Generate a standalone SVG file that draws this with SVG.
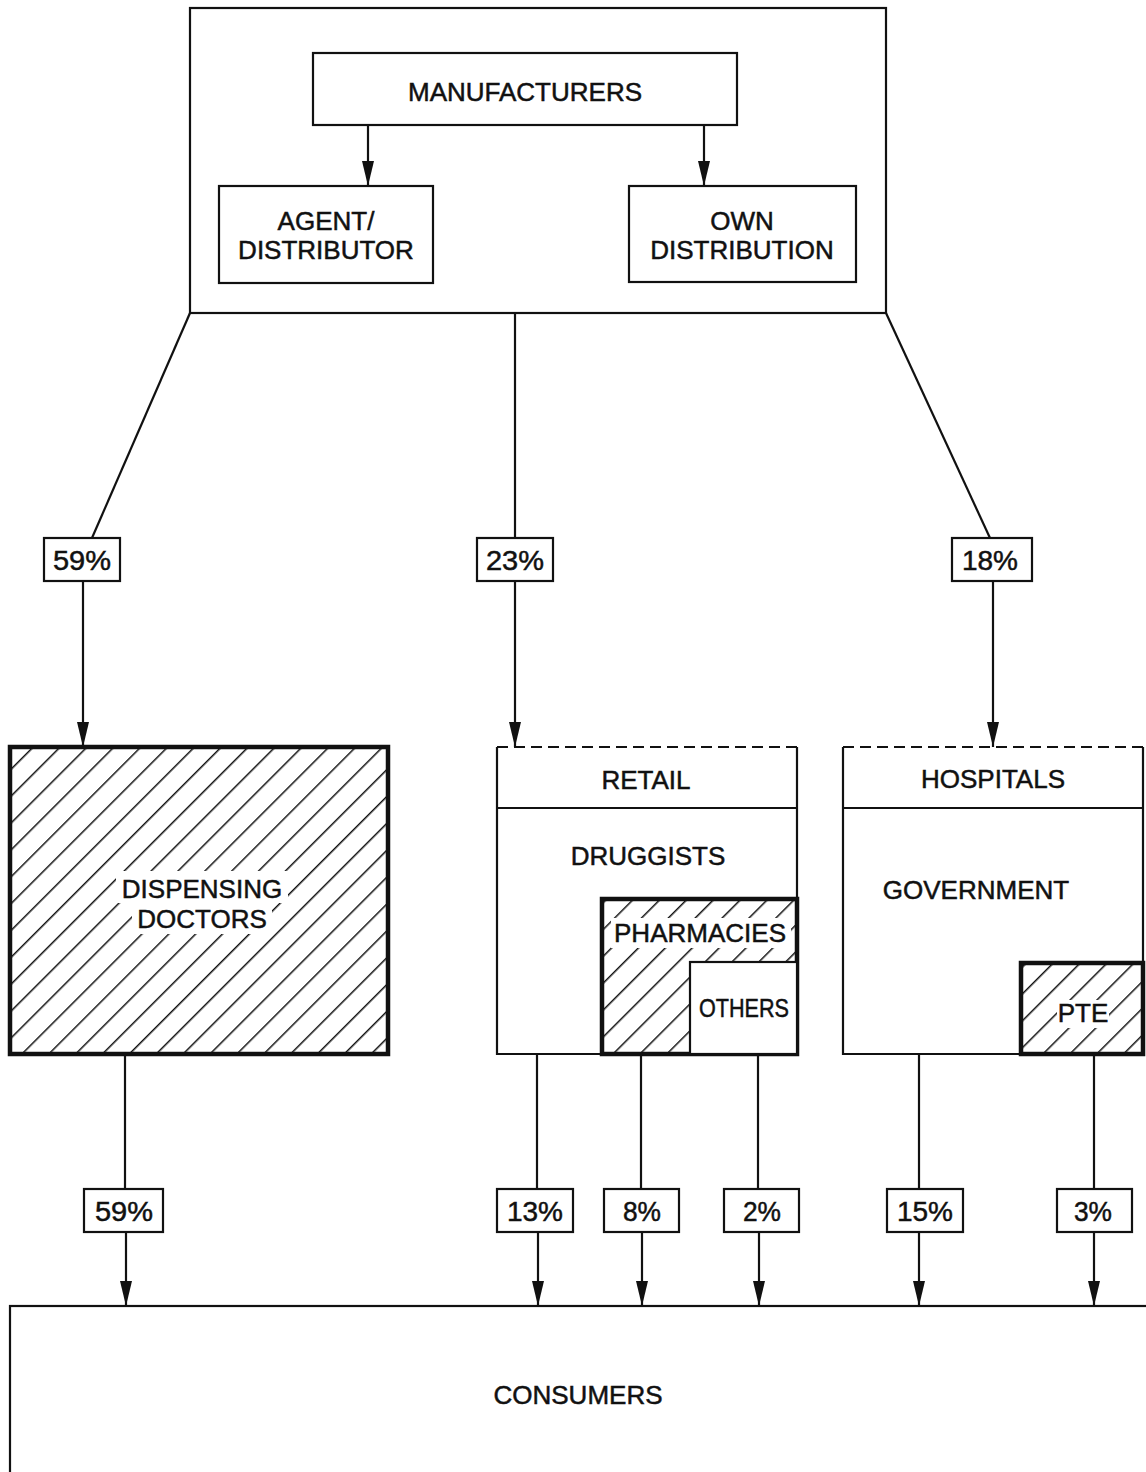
<svg xmlns="http://www.w3.org/2000/svg" width="1146" height="1472" viewBox="0 0 1146 1472">
<style>
.box{fill:#fff;stroke:#111;stroke-width:2.2}
.ln{fill:none;stroke:#111;stroke-width:2.2}
.dash{fill:none;stroke:#111;stroke-width:2.2;stroke-dasharray:11 6}
.t{font-family:"Liberation Sans",Arial,sans-serif;font-size:26px;fill:#111;stroke:#111;stroke-width:0.5;text-anchor:middle}
.p{font-family:"Liberation Sans",Arial,sans-serif;font-size:28px;fill:#111;stroke:#111;stroke-width:0.5;text-anchor:middle}
.wb{fill:#fff;stroke:none}
</style>
<defs>
<pattern id="hatch" patternUnits="userSpaceOnUse" width="19" height="19" patternTransform="rotate(45)">
<rect width="19" height="19" fill="#fff"/>
<line x1="0" y1="0" x2="0" y2="19" stroke="#111" stroke-width="3"/>
</pattern>
<marker id="arr" markerUnits="userSpaceOnUse" markerWidth="26" markerHeight="14" refX="25" refY="7" orient="auto" viewBox="0 0 26 14">
<path d="M0,1 L0,13 L25,7 Z" fill="#111"/>
</marker>
</defs>

<g id="manufacturers-group">
<rect class="box" x="190" y="8" width="696" height="305"/>
</g>
<g id="manufacturers">
<rect class="box" x="313" y="53" width="424" height="72"/>
<text class="t" x="525" y="101">MANUFACTURERS</text>
</g>
<g id="agent-distributor">
<rect class="box" x="219" y="186" width="214" height="97"/>
<text class="t" x="326" y="230">AGENT/</text>
<text class="t" x="326" y="259">DISTRIBUTOR</text>
</g>
<g id="own-distribution">
<rect class="box" x="629" y="186" width="227" height="96"/>
<text class="t" x="742" y="230">OWN</text>
<text class="t" x="742" y="259">DISTRIBUTION</text>
</g>

<g id="dispensing-doctors">
<rect x="10" y="747" width="378" height="307" fill="url(#hatch)" stroke="#111" stroke-width="4.5"/>
<rect class="wb" x="116" y="871" width="172" height="32"/>
<rect class="wb" x="132" y="902" width="140" height="32"/>
<text class="t" x="202" y="898">DISPENSING</text>
<text class="t" x="202" y="928">DOCTORS</text>
</g>

<g id="retail">
<rect x="497" y="747" width="300" height="307" fill="#fff" stroke="none"/>
<path class="ln" d="M497,747 V1054 H797 V747 M497,808 H797"/>
<path class="dash" d="M497,747 H797"/>
<text class="t" x="646" y="789">RETAIL</text>
<text class="t" x="648" y="865">DRUGGISTS</text>
</g>
<g id="pharmacies">
<rect x="602" y="899" width="195" height="155" fill="url(#hatch)" stroke="#111" stroke-width="4.5"/>
<rect class="wb" x="611" y="918" width="180" height="30"/>
<text class="t" x="700" y="942" textLength="172" lengthAdjust="spacingAndGlyphs">PHARMACIES</text>
</g>
<g id="others">
<rect class="box" x="690" y="962" width="107" height="92"/>
<text class="t" x="744" y="1017" textLength="90" lengthAdjust="spacingAndGlyphs">OTHERS</text>
</g>

<g id="hospitals">
<rect x="843" y="747" width="300" height="307" fill="#fff" stroke="none"/>
<path class="ln" d="M843,747 V1054 H1143 V747 M843,808 H1143"/>
<path class="dash" d="M843,747 H1143"/>
<text class="t" x="993" y="788">HOSPITALS</text>
<text class="t" x="976" y="899">GOVERNMENT</text>
</g>
<g id="pte">
<rect x="1021" y="963" width="122" height="91" fill="url(#hatch)" stroke="#111" stroke-width="4.5"/>
<rect class="wb" x="1057" y="1000" width="52" height="28"/>
<text class="t" x="1083" y="1022">PTE</text>
</g>

<g id="consumers">
<rect class="box" x="10" y="1306" width="1145" height="180"/>
<text class="t" x="578" y="1404">CONSUMERS</text>
</g>

<g id="connectors">
<line class="ln" x1="368" y1="125" x2="368" y2="186" marker-end="url(#arr)"/>
<line class="ln" x1="704" y1="125" x2="704" y2="186" marker-end="url(#arr)"/>

<line class="ln" x1="190" y1="313" x2="92" y2="538"/>
<line class="ln" x1="83" y1="581" x2="83" y2="747" marker-end="url(#arr)"/>
<line class="ln" x1="515" y1="313" x2="515" y2="538"/>
<line class="ln" x1="515" y1="581" x2="515" y2="747" marker-end="url(#arr)"/>
<line class="ln" x1="886" y1="313" x2="990" y2="538"/>
<line class="ln" x1="993" y1="581" x2="993" y2="747" marker-end="url(#arr)"/>

<line class="ln" x1="125" y1="1054" x2="125" y2="1189"/>
<line class="ln" x1="126" y1="1232" x2="126" y2="1306" marker-end="url(#arr)"/>
<line class="ln" x1="537" y1="1054" x2="537" y2="1189"/>
<line class="ln" x1="538" y1="1232" x2="538" y2="1306" marker-end="url(#arr)"/>
<line class="ln" x1="641" y1="1054" x2="641" y2="1189"/>
<line class="ln" x1="642" y1="1232" x2="642" y2="1306" marker-end="url(#arr)"/>
<line class="ln" x1="758" y1="1054" x2="758" y2="1189"/>
<line class="ln" x1="759" y1="1232" x2="759" y2="1306" marker-end="url(#arr)"/>
<line class="ln" x1="919" y1="1054" x2="919" y2="1189"/>
<line class="ln" x1="919" y1="1232" x2="919" y2="1306" marker-end="url(#arr)"/>
<line class="ln" x1="1094" y1="1054" x2="1094" y2="1189"/>
<line class="ln" x1="1094" y1="1232" x2="1094" y2="1306" marker-end="url(#arr)"/>
</g>

<g id="label-59-top"><rect class="box" x="44" y="538" width="76" height="43"/><text class="p" x="82" y="570" textLength="58" lengthAdjust="spacingAndGlyphs">59%</text></g>
<g id="label-23"><rect class="box" x="477" y="538" width="76" height="43"/><text class="p" x="515" y="570" textLength="58" lengthAdjust="spacingAndGlyphs">23%</text></g>
<g id="label-18"><rect class="box" x="952" y="538" width="80" height="43"/><text class="p" x="990" y="570" textLength="56" lengthAdjust="spacingAndGlyphs">18%</text></g>

<g id="label-59-bottom"><rect class="box" x="84" y="1189" width="79" height="43"/><text class="p" x="124" y="1221" textLength="58" lengthAdjust="spacingAndGlyphs">59%</text></g>
<g id="label-13"><rect class="box" x="497" y="1189" width="76" height="43"/><text class="p" x="535" y="1221" textLength="56" lengthAdjust="spacingAndGlyphs">13%</text></g>
<g id="label-8"><rect class="box" x="604" y="1189" width="75" height="43"/><text class="p" x="642" y="1221" textLength="38" lengthAdjust="spacingAndGlyphs">8%</text></g>
<g id="label-2"><rect class="box" x="724" y="1189" width="75" height="43"/><text class="p" x="762" y="1221" textLength="38" lengthAdjust="spacingAndGlyphs">2%</text></g>
<g id="label-15"><rect class="box" x="887" y="1189" width="76" height="43"/><text class="p" x="925" y="1221" textLength="56" lengthAdjust="spacingAndGlyphs">15%</text></g>
<g id="label-3"><rect class="box" x="1057" y="1189" width="75" height="43"/><text class="p" x="1093" y="1221" textLength="38" lengthAdjust="spacingAndGlyphs">3%</text></g>
</svg>
